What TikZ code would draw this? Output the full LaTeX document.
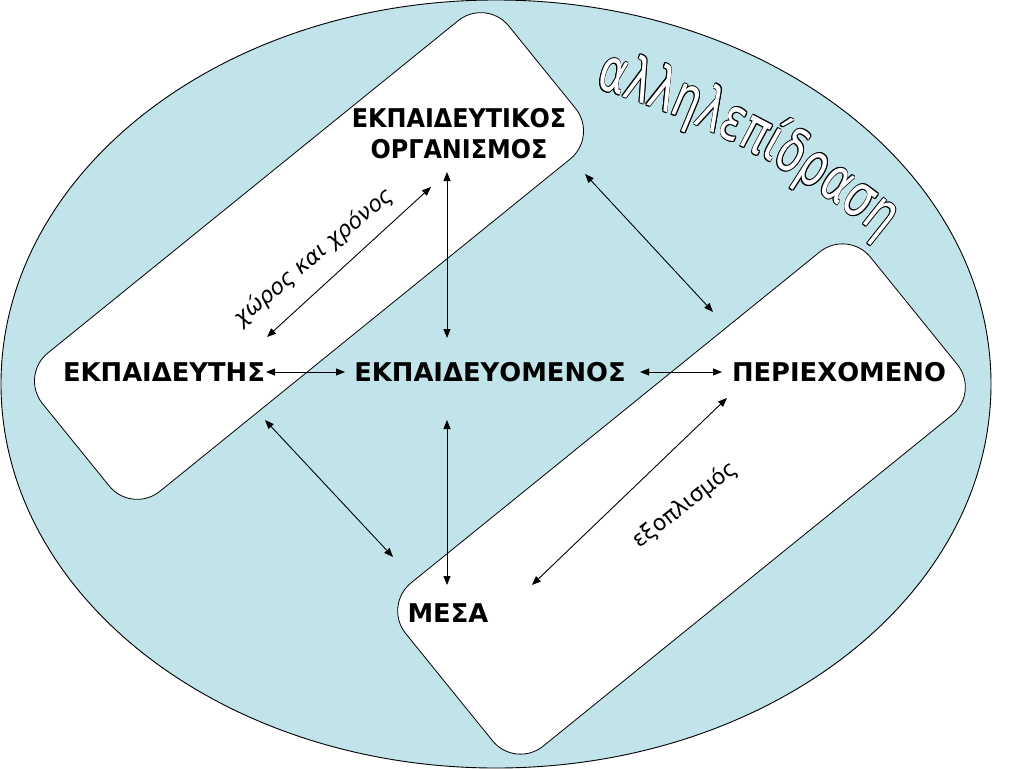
\documentclass[tikz,border=0pt]{standalone}
\usepackage{fontspec}
\usetikzlibrary{arrows.meta}
\newfontfamily\dejavu{DejaVu Sans}
\definecolor{bgblue}{RGB}{192,228,233}
\newlength\olw \setlength\olw{1.1pt}
\newcommand\wafont{\dejavu\fontsize{60}{60}\selectfont}
\newcommand\olet[1]{\leavevmode
 \rlap{\kern\olw\textcolor{black}{#1}}%
 \rlap{\kern-\olw\textcolor{black}{#1}}%
 \rlap{\raisebox{\olw}{\textcolor{black}{#1}}}%
 \rlap{\raisebox{-\olw}{\textcolor{black}{#1}}}%
 \rlap{\kern.7\olw\raisebox{.7\olw}{\textcolor{black}{#1}}}%
 \rlap{\kern-.7\olw\raisebox{.7\olw}{\textcolor{black}{#1}}}%
 \rlap{\kern.7\olw\raisebox{-.7\olw}{\textcolor{black}{#1}}}%
 \rlap{\kern-.7\olw\raisebox{-.7\olw}{\textcolor{black}{#1}}}%
 \textcolor{white}{#1}}
\begin{document}
\begin{tikzpicture}[x=1pt,y=-1pt,
  box/.style={draw=black, line width=0.8pt, fill=white, rounded corners=36pt, inner sep=0pt, outer sep=0pt},
  lbl/.style={font=\dejavu\bfseries\fontsize{25.8}{31}\selectfont, inner sep=0pt, align=center},
  note/.style={font=\dejavu\itshape\fontsize{22}{26}\selectfont, inner sep=0pt},
  noteup/.style={font=\dejavu\fontsize{22}{26}\selectfont, inner sep=0pt},
  dbl/.style={{Triangle[length=9pt,width=7pt]}-{Triangle[length=9pt,width=7pt]}, line width=0.9pt},
  wa/.style={inner sep=0pt, font=\wafont}]
\useasboundingbox (0,0) rectangle (1024,768);
\fill[white] (0,0) rectangle (1024,768);
\draw[fill=bgblue, line width=0.9pt] (496,384) ellipse [x radius=495pt, y radius=384pt];
\node[box, minimum width=600pt, minimum height=178pt, rotate=39] (orgbox) at (309,256) {};
\node[box, minimum width=598pt, minimum height=210pt, rotate=39] (mediabox) at (681.5,499) {};

\node[lbl] (org) at (459,134) {\scalebox{0.925}[1]{ΕΚΠΑΙΔΕΥΤΙΚΟΣ}\\\scalebox{0.925}[1]{ΟΡΓΑΝΙΣΜΟΣ}};
\node[lbl] (teacher) at (164,372) {ΕΚΠΑΙΔΕΥΤΗΣ};
\node[lbl] (learner) at (490,372) {ΕΚΠΑΙΔΕΥΟΜΕΝΟΣ};
\node[lbl] (content) at (839,372) {ΠΕΡΙΕΧΟΜΕΝΟ};
\node[lbl] (media) at (448,613) {ΜΕΣΑ};

\coordinate (a1s) at (447,172); \coordinate (a1e) at (447,338);
\coordinate (a2s) at (447,420); \coordinate (a2e) at (447,585);
\coordinate (a3s) at (266,372); \coordinate (a3e) at (345,372);
\coordinate (a4s) at (640,372); \coordinate (a4e) at (722,372);
\coordinate (a5s) at (267,337); \coordinate (a5e) at (431,187);
\coordinate (a6s) at (585,174); \coordinate (a6e) at (713,312);
\coordinate (a7s) at (265,420); \coordinate (a7e) at (393,557);
\coordinate (a8s) at (532,585); \coordinate (a8e) at (727,398);
\foreach \k in {1,...,8} \draw[dbl] (a\k s) -- (a\k e);

\node[note, rotate=40, anchor=base] (space) at (318,262) {χώρος και χρόνος};
\node[noteup, rotate=38, anchor=base] (equip) at (689,510) {εξοπλισμός};

\def\wCx{375.6}\def\wCy{853.2}\def\wR{796}\def\aS{74}
\foreach \ch/\cc [count=\i] in {α/13.85,λ/40.15,λ/65.05,η/90.8,λ/116.55,ε/140.75,π/165.15,ί/184.9,δ/204.85,ρ/231.05,α/258.25,σ/285.45,η/312.1}{%
  \pgfmathsetmacro\ang{\aS-\cc/\wR*180/pi}%
  \node[wa, anchor=base, rotate=\ang-90] (w\i) at ({\wCx+\wR*cos(\ang)},{\wCy-\wR*sin(\ang)}) {\scalebox{0.7}[1]{\olet{\ch}}};
}
\end{tikzpicture}
\end{document}
